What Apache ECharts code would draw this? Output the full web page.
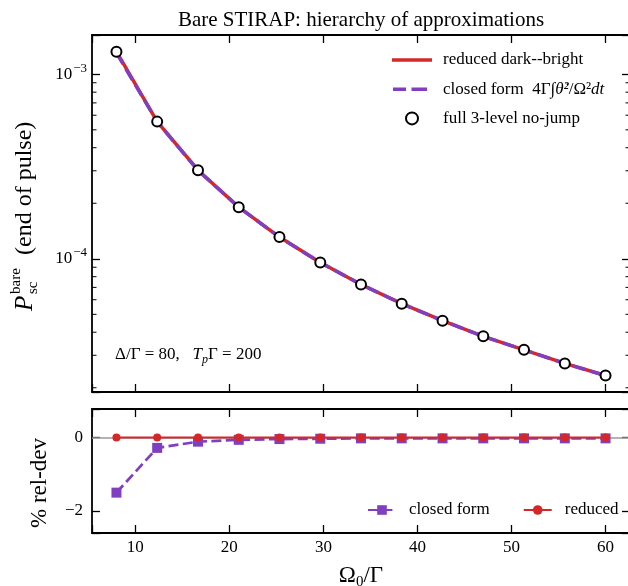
<!DOCTYPE html>
<html><head><meta charset="utf-8">
<script src="https://cdn.jsdelivr.net/npm/echarts@6/dist/echarts.min.js"></script>
<style>html,body{margin:0;padding:0;background:#fff}#c{width:628px;height:586px}</style>
</head><body><div id="c"></div>
<script>
const FONT = 'Liberation Serif';
const RED = '#d62728';
const PURPLE = '#7f3fbf';

// ---- data ----
const omega = [8, 12.33, 16.67, 21, 25.33, 29.67, 34, 38.33, 42.67, 47, 51.33, 55.67, 60];
const pFull = [1.326e-3, 5.54e-4, 3.02e-4, 1.905e-4, 1.311e-4, 9.55e-5, 7.26e-5, 5.71e-5, 4.62e-5, 3.80e-5, 3.21e-5, 2.71e-5, 2.33e-5];
const pReduced = [1.326e-3, 5.54e-4, 3.02e-4, 1.905e-4, 1.311e-4, 9.55e-5, 7.26e-5, 5.71e-5, 4.62e-5, 3.80e-5, 3.21e-5, 2.71e-5, 2.33e-5];
const pClosed = [1.306e-3, 5.525e-4, 3.017e-4, 1.904e-4, 1.3105e-4, 9.547e-5, 7.258e-5, 5.709e-5, 4.619e-5, 3.799e-5, 3.209e-5, 2.709e-5, 2.329e-5];
const devClosed = [-1.50, -0.28, -0.11, -0.06, -0.04, -0.03, -0.02, -0.02, -0.02, -0.02, -0.02, -0.02, -0.02];
const devReduced = [0, 0, 0, 0, 0, 0, 0, 0, 0, 0, 0, 0, 0];
const xTickStep = 10;
const logMinorTicks = [2e-5, 3e-5, 4e-5, 5e-5, 6e-5, 7e-5, 8e-5, 9e-5, 2e-4, 3e-4, 4e-4, 5e-4, 6e-4, 7e-4, 8e-4, 9e-4];
const X_MIN = 5.4, X_MAX = 62.6;
const YT_MIN = 1.897e-5, YT_MAX = 1.633e-3;
const YB_MIN = -2.6, YB_MAX = 0.78;

const pair = (xs, ys) => xs.map((x, i) => [x, ys[i]]);

const lineBlack = { color: '#000', width: 1.8 };
const tickStyle = { color: '#000', width: 1.3 };

function xAxis(grid, pos, labels) {
  return {
    type: 'value', gridIndex: grid, position: pos, min: X_MIN, max: X_MAX, splitNumber: 5,
    axisLine: { show: true, onZero: false, lineStyle: lineBlack },
    axisTick: { show: true, inside: true, length: 8, lineStyle: tickStyle },
    splitLine: { show: false },
    axisLabel: labels ? {
      show: true, margin: 6, fontFamily: FONT, fontSize: 17, color: '#000',
      formatter: v => (Math.abs(v / xTickStep - Math.round(v / xTickStep)) < 1e-9 ? String(Math.round(v)) : '')
    } : { show: false },
    name: labels ? '{a|Ω}{s|0}{a|/Γ}' : '',
    nameLocation: 'middle', nameGap: 28,
    nameTextStyle: { rich: {
      a: { fontFamily: FONT, fontSize: 23, color: '#000' },
      s: { fontFamily: FONT, fontSize: 15, color: '#000', padding: [14, 0, 0, 0] }
    } }
  };
}
function yLog(pos, labels) {
  return {
    type: 'log', logBase: 10, gridIndex: 0, position: pos, min: YT_MIN, max: YT_MAX, splitNumber: 2,
    axisLine: { show: true, onZero: false, lineStyle: lineBlack },
    axisTick: { show: true, inside: true, length: 8, lineStyle: tickStyle },
    splitLine: { show: false },
    axisLabel: labels ? {
      show: true, margin: 5, color: '#000',
      formatter: v => {
        const e = Math.log10(v), r = Math.round(e);
        if (Math.abs(e - r) > 1e-6) return '';
        return '{b|10}{s|' + (r < 0 ? '\u2212' : '') + Math.abs(r) + '}';
      },
      rich: {
        b: { fontFamily: FONT, fontSize: 17, color: '#000' },
        s: { fontFamily: FONT, fontSize: 13, color: '#000', padding: [0, 0, 12, 1] }
      }
    } : { show: false }
  };
}
function yLin(pos, labels) {
  return {
    type: 'value', gridIndex: 1, position: pos, min: YB_MIN, max: YB_MAX, splitNumber: 2,
    axisLine: { show: true, onZero: false, lineStyle: lineBlack },
    axisTick: { show: true, inside: true, length: 8, lineStyle: tickStyle },
    splitLine: { show: false },
    axisLabel: labels ? {
      show: true, margin: 9, fontFamily: FONT, fontSize: 17, color: '#000',
      formatter: v => {
        if (Math.abs(v / 2 - Math.round(v / 2)) > 1e-9) return '';
        const r = Math.round(v);
        return (r < 0 ? '\u2212' : '') + Math.abs(r);
      }
    } : { show: false }
  };
}

const legendNames = {
  'reduced dark--bright': '{g| }reduced dark--bright',
  'closedTop': '{g| }closed form  4Γ{i|∫θ̇²}/Ω²{i|dt}',
  'full 3-level no-jump': '{g| }full 3-level no-jump',
  'closed form': '{h| }closed form',
  'reduced': '{h| }reduced'
};
const legendRich = {
  g: { width: 6, fontSize: 17, fontFamily: FONT },
  h: { width: 8, fontSize: 17, fontFamily: FONT },
  i: { fontFamily: FONT, fontStyle: 'italic', fontSize: 17, color: '#000', lineHeight: 20 }
};
const ICON_SOLID = 'path://M0,0h40v3.5h-40z';
const ICON_DASH = 'path://M0,0h0.01v3.5h-0.01z M1,0h13v3.5h-13z M19.5,0h15.5v3.5h-15.5z M39.99,0h0.01v3.5h-0.01z';

const chart = echarts.init(document.getElementById('c'), null, { renderer: 'canvas' });
chart.setOption({
  backgroundColor: '#fff',
  animation: false,
  grid: [
    { left: 92, top: 35, width: 538, height: 357, outerBoundsMode: 'none', containLabel: false },
    { left: 92, top: 409, width: 538, height: 124, outerBoundsMode: 'none', containLabel: false }
  ],
  xAxis: [xAxis(0, 'bottom', false), xAxis(0, 'top', false), xAxis(1, 'bottom', true), xAxis(1, 'top', false)],
  yAxis: [yLog('left', true), yLog('right', false), yLin('left', true), yLin('right', false)],
  legend: [
    {
      data: [
        { name: 'reduced dark--bright', icon: ICON_SOLID, itemStyle: { borderWidth: 0 } },
        { name: 'closedTop', icon: ICON_DASH, itemStyle: { borderWidth: 0 } },
        { name: 'full 3-level no-jump', icon: 'circle' }
      ],
      orient: 'vertical', left: 392, top: 50, padding: 0, itemWidth: 40, itemHeight: 12, itemGap: 9.2,
      selectedMode: false, formatter: n => legendNames[n],
      textStyle: { fontFamily: FONT, fontSize: 17, color: '#000', lineHeight: 20, rich: legendRich }
    },
    {
      data: ['closed form', 'reduced'],
      orient: 'horizontal', left: 367, top: 500, width: 320, padding: 0, itemWidth: 28, itemHeight: 12, itemGap: 33,
      selectedMode: false, formatter: n => legendNames[n],
      textStyle: { fontFamily: FONT, fontSize: 17, color: '#000', lineHeight: 20, rich: legendRich }
    }
  ],
  graphic: [
    { type: 'text', x: 361, y: 20, style: { text: 'Bare STIRAP: hierarchy of approximations', font: '21px "Liberation Serif"', fill: '#000', align: 'center', verticalAlign: 'middle' } },
    { type: 'group', x: 25, y: 311, rotation: Math.PI / 2, children: [
      { type: 'text', x: 0, y: 0, style: { text: 'P', font: 'italic 25px "Liberation Serif"', fill: '#000', align: 'left', verticalAlign: 'middle' } },
      { type: 'text', x: 17, y: -9, style: { text: 'bare', font: '15px "Liberation Serif"', fill: '#000', align: 'left', verticalAlign: 'middle' } },
      { type: 'text', x: 17, y: 8, style: { text: 'sc', font: '15px "Liberation Serif"', fill: '#000', align: 'left', verticalAlign: 'middle' } },
      { type: 'text', x: 56, y: 0, style: { text: '(end of pulse)', font: '24px "Liberation Serif"', fill: '#000', align: 'left', verticalAlign: 'middle' } }
    ] },
    { type: 'text', x: 40, y: 483, rotation: Math.PI / 2, style: { text: '% rel-dev', font: '23px "Liberation Serif"', fill: '#000', align: 'center', verticalAlign: 'middle' } },
    { type: 'text', x: 115, y: 355, style: {
      text: '{n|Δ/Γ = 80,   }{i|T}{s|p}{n|Γ = 200}', align: 'left', verticalAlign: 'middle',
      rich: {
        n: { fontFamily: FONT, fontSize: 17, color: '#000' },
        i: { fontFamily: FONT, fontStyle: 'italic', fontSize: 17, color: '#000' },
        s: { fontFamily: FONT, fontStyle: 'italic', fontSize: 12, color: '#000', padding: [10, 0, 0, 0] }
      } } }
  ],
  series: [
    { name: 'reduced dark--bright', type: 'line', xAxisIndex: 0, yAxisIndex: 0, data: pair(omega, pReduced),
      symbol: 'none', lineStyle: { color: RED, width: 3.5 }, itemStyle: { color: RED }, z: 2 },
    { name: 'closedTop', type: 'line', xAxisIndex: 0, yAxisIndex: 0, data: pair(omega, pClosed),
      symbol: 'none', lineStyle: { color: PURPLE, width: 3.5, type: [12.8, 5.6] }, itemStyle: { color: PURPLE }, z: 3 },
    { name: 'full 3-level no-jump', type: 'line', xAxisIndex: 0, yAxisIndex: 0, data: pair(omega, pFull),
      symbol: 'circle', symbolSize: 10, showSymbol: true,
      lineStyle: { width: 0, opacity: 0 }, itemStyle: { color: '#fff', borderColor: '#000', borderWidth: 2 }, z: 4 },
    { type: 'custom', coordinateSystem: 'cartesian2d', xAxisIndex: 0, yAxisIndex: 0, silent: true, clip: false, z: 10,
      data: logMinorTicks.map(v => [omega[0], v]),
      renderItem: (params, api) => {
        const cs = params.coordSys;
        const y = api.coord([api.value(0), api.value(1)])[1];
        return { type: 'group', children: [
          { type: 'line', shape: { x1: cs.x, y1: y, x2: cs.x + 4.5, y2: y }, style: { stroke: '#000', lineWidth: 1 } },
          { type: 'line', shape: { x1: cs.x + cs.width - 4.5, y1: y, x2: cs.x + cs.width, y2: y }, style: { stroke: '#000', lineWidth: 1 } }
        ] };
      } },
    { name: 'closed form', type: 'line', xAxisIndex: 2, yAxisIndex: 2, data: pair(omega, devClosed),
      symbol: 'rect', symbolSize: 10, lineStyle: { color: PURPLE, width: 2.7, type: [10, 4.4] }, itemStyle: { color: PURPLE }, z: 3 },
    { name: 'reduced', type: 'line', xAxisIndex: 2, yAxisIndex: 2, data: pair(omega, devReduced),
      symbol: 'circle', symbolSize: 8, lineStyle: { color: RED, width: 2 }, itemStyle: { color: RED }, z: 4,
      markLine: { silent: true, symbol: 'none', z: 1, label: { show: false },
        lineStyle: { color: '#9a9a9a', width: 1.5, type: 'solid' }, data: [{ yAxis: 0 }] } }
  ]
});
</script></body></html>
